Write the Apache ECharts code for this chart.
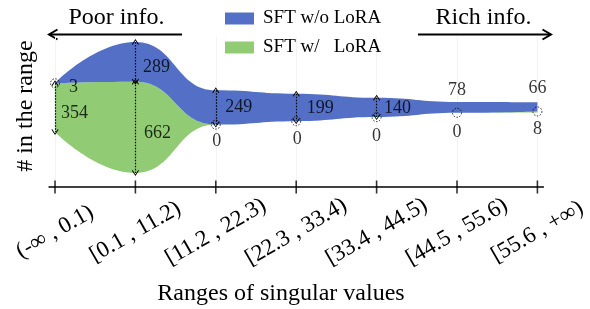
<!DOCTYPE html>
<html><head><meta charset="utf-8">
<script src="https://cdn.jsdelivr.net/npm/echarts@6/dist/echarts.min.js"></script>
<style>html,body{margin:0;padding:0;background:#fff}#c{width:590px;height:309px}</style>
</head><body><div id="c"></div>
<script>
// ---------- data ----------
const categories = ['(-\u221e , 0.1)', '[0.1 , 11.2)', '[11.2 , 22.3)', '[22.3 , 33.4)', '[33.4 , 44.5)', '[44.5 , 55.6)', '[55.6 , +\u221e)'];
const sftWithoutLoRA = [3, 289, 249, 199, 140, 78, 66];
const sftWithLoRA = [354, 662, 0, 0, 0, 0, 8];
const seriesNames = ['SFT w/o LoRA', 'SFT w/   LoRA'];
const xAxisTitle = 'Ranges of singular values';
const yAxisTitle = '# in the range';
const leftNote = 'Poor info.';
const rightNote = 'Rich info.';

// ---------- derived layout (centered stream) ----------
const FONT = 'Liberation Serif';
const BLUE = '#5470c6', GREEN = '#91cc75';
const idx = categories.map((_, i) => i);
const totals = idx.map(i => sftWithoutLoRA[i] + sftWithLoRA[i]);
const maxTotal = Math.max(...totals);
const baseline = totals.map(t => (maxTotal - t) / 2);
const greenTop = idx.map(i => baseline[i] + sftWithLoRA[i]);
const blueTop = idx.map(i => greenTop[i] + sftWithoutLoRA[i]);
const Y_MIN = -102, Y_MAX = 987;

const anchors = {
  bTop: i => blueTop[i],
  bMid: i => (blueTop[i] + greenTop[i]) / 2,
  gTop: i => greenTop[i],
  gMid: i => (greenTop[i] + baseline[i]) / 2,
  base: i => baseline[i]
};
const labelLayout = [
  {i: 0, s: 'b', at: 'gTop', off: [18.5, 4]},
  {i: 0, s: 'g', at: 'gMid', off: [19.5, 6]},
  {i: 1, s: 'b', at: 'bMid', off: [21, 5.5]},
  {i: 1, s: 'g', at: 'gMid', off: [22, 6]},
  {i: 2, s: 'b', at: 'bMid', off: [23, 0]},
  {i: 2, s: 'g', at: 'gTop', off: [1, 16.5]},
  {i: 3, s: 'b', at: 'bMid', off: [24, 1]},
  {i: 3, s: 'g', at: 'gTop', off: [1, 18]},
  {i: 4, s: 'b', at: 'bMid', off: [21, 1]},
  {i: 4, s: 'g', at: 'gTop', off: [0, 19.5]},
  {i: 5, s: 'b', at: 'bTop', off: [0, -12]},
  {i: 5, s: 'g', at: 'gTop', off: [0, 19.5]},
  {i: 6, s: 'b', at: 'bTop', off: [0, -14]},
  {i: 6, s: 'g', at: 'base', off: [0, 16.5]}
];
const arrowLayout = [
  {i: 0, from: 'gTop', to: 'base'},
  {i: 1, from: 'bTop', to: 'gTop'},
  {i: 1, from: 'gTop', to: 'base'},
  {i: 2, from: 'bTop', to: 'gTop'},
  {i: 3, from: 'bTop', to: 'gTop'},
  {i: 4, from: 'bTop', to: 'gTop'}
];
const circleIdx = [0, 2, 3, 4, 5, 6];

const chev = 'path://M5,0 L10,8 L9,9.2 L5,2.2 L1,9.2 L0,8 Z';

const chart = echarts.init(document.getElementById('c'), null, {renderer: 'canvas'});
const option = {
  animation: false,
  backgroundColor: '#fff',
  grid: {left: 55, right: 45, top: 37, bottom: 122},
  legend: {
    orient: 'vertical', left: 220, top: 4,
    data: [seriesNames[0], seriesNames[1]],
    icon: 'rect', itemWidth: 29, itemHeight: 12, itemGap: 10,
    textStyle: {fontFamily: FONT, fontSize: 19, color: '#000', padding: [0, 0, 0, 4]},
    itemStyle: {borderWidth: 0}
  },
  xAxis: {
    type: 'category', data: categories, boundaryGap: false,
    axisLine: {show: false},
    axisTick: {show: false},
    splitLine: {show: true, interval: 0, lineStyle: {color: '#f3f3f3', width: 1}},
    axisLabel: {
      interval: 0, rotate: 30, align: 'center', verticalAlign: 'middle', margin: 45,
      fontFamily: FONT, fontSize: 23, color: '#000'
    }
  },
  yAxis: {type: 'value', min: Y_MIN, max: Y_MAX, show: false, splitLine: {show: false}},
  series: [
    {
      name: '_base', type: 'line', stack: 'stream', data: baseline,
      showSymbol: false, lineStyle: {opacity: 0, width: 0}, silent: true,
      smooth: 0.5, smoothMonotone: 'x'
    },
    {
      name: seriesNames[1], type: 'line', stack: 'stream', data: sftWithLoRA,
      showSymbol: false, lineStyle: {width: 0, opacity: 0}, itemStyle: {color: GREEN},
      areaStyle: {color: GREEN, opacity: 1}, smooth: 0.5, smoothMonotone: 'x', z: 2
    },
    {
      name: seriesNames[0], type: 'line', stack: 'stream', data: sftWithoutLoRA,
      showSymbol: false, lineStyle: {width: 0, opacity: 0}, itemStyle: {color: BLUE},
      areaStyle: {color: BLUE, opacity: 1}, smooth: 0.5, smoothMonotone: 'x', z: 2
    },
    {
      name: '_ticks', type: 'scatter', silent: true, clip: false, z: 5,
      data: idx.map(i => [i, Y_MIN]), symbol: 'rect', symbolSize: [1.6, 13],
      itemStyle: {color: '#000'}
    },
    {
      name: '_marks', type: 'scatter', silent: true, clip: false, z: 6,
      data: circleIdx.map(i => [i, greenTop[i]]), symbol: 'circle', symbolSize: 9,
      itemStyle: {color: 'rgba(0,0,0,0)', borderColor: '#000', borderWidth: 1, borderType: [1.5, 1.5]},
      markLine: {
        silent: true, animation: false,
        symbol: [chev, chev], symbolSize: [7, 6], symbolKeepAspect: false,
        lineStyle: {color: '#000', type: [1.5, 1.5], width: 1.2},
        label: {show: false},
        data: arrowLayout.map(a => [
          {coord: [a.i, anchors[a.from](a.i)]},
          {coord: [a.i, anchors[a.to](a.i)]}
        ])
      }
    },
    {
      name: '_labels', type: 'scatter', silent: true, clip: false, z: 7, symbolSize: 0,
      data: labelLayout.map(l => ({
        value: [l.i, anchors[l.at](l.i)],
        label: {
          show: true, position: 'inside', offset: l.off,
          formatter: String((l.s === 'b' ? sftWithoutLoRA : sftWithLoRA)[l.i]),
          fontFamily: FONT, fontSize: 18, color: '#000', align: 'center', verticalAlign: 'middle'
        }
      }))
    }
  ],
  graphic: [
    {type: 'text', x: 116.5, y: 17.6, style: {text: leftNote, font: '24px "Liberation Serif"', fill: '#000', align: 'center', verticalAlign: 'middle'}},
    {type: 'text', x: 483.5, y: 17.6, style: {text: rightNote, font: '24px "Liberation Serif"', fill: '#000', align: 'center', verticalAlign: 'middle'}},
    {type: 'polyline', shape: {points: [[182, 34.5], [49, 34.5]]}, style: {stroke: '#000', lineWidth: 2, fill: null}},
    {type: 'polyline', shape: {points: [[57.5, 29.5], [49, 34.5], [57.5, 39.5]]}, style: {stroke: '#000', lineWidth: 2, fill: null}},
    {type: 'polyline', shape: {points: [[418, 34.5], [551, 34.5]]}, style: {stroke: '#000', lineWidth: 2, fill: null}},
    {type: 'polyline', shape: {points: [[542.5, 29.5], [551, 34.5], [542.5, 39.5]]}, style: {stroke: '#000', lineWidth: 2, fill: null}},
    {type: 'text', x: 25.5, y: 106, rotation: Math.PI / 2, style: {text: yAxisTitle, font: '24px "Liberation Serif"', fill: '#000', align: 'center', verticalAlign: 'middle'}},
    {type: 'text', x: 281, y: 294, style: {text: xAxisTitle, font: '24px "Liberation Serif"', fill: '#000', align: 'center', verticalAlign: 'middle'}}
  ]
};
chart.setOption(option);
// axis line through the library's scale, extended a little past the first and last category
const p0 = chart.convertToPixel({gridIndex: 0}, [0, Y_MIN]);
const p1 = chart.convertToPixel({gridIndex: 0}, [categories.length - 1, Y_MIN]);
chart.setOption({graphic: option.graphic.concat([
  {type: 'line', z: 4, shape: {x1: p0[0] - 6.5, y1: p0[1], x2: p1[0] + 6.5, y2: p1[1]}, style: {stroke: '#000', lineWidth: 1.6}}
])});
</script></body></html>
